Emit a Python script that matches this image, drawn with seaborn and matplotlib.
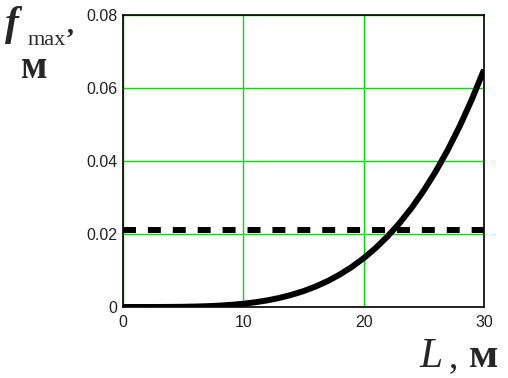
import matplotlib
matplotlib.use("Agg")
import matplotlib.pyplot as plt
import seaborn as sns
import pandas as pd

# Data
L_values = list(range(0, 31))
f_values = [0.0, 0.0000001, 0.0000017, 0.0000082, 0.000025, 0.00006, 0.000122,
            0.000223, 0.000375, 0.000593, 0.000896, 0.0013, 0.001823, 0.00249,
            0.00333, 0.00435, 0.0056, 0.00709, 0.00887, 0.01094, 0.01337,
            0.01617, 0.01939, 0.02306, 0.02723, 0.03193, 0.0372, 0.0431,
            0.04966, 0.05695, 0.065]
f_limit = [0.021, 0.021]
L_limit = [0, 30]
x_ticks = [0, 10, 20, 30]
y_ticks = [0, 0.02, 0.04, 0.06, 0.08]
y_tick_labels = ["0", "0.02", "0.04", "0.06", "0.08"]

sns.set_theme(style="white")
plt.rcParams['font.family'] = ['Liberation Sans', 'DejaVu Sans']

W, H = 508, 378
fig = plt.figure(figsize=(W / 100, H / 100), dpi=100)
ax = fig.add_axes([123 / W, 1 - 307 / H, (484 - 123) / W, (307 - 15) / H])

df_curve = pd.DataFrame({"L": L_values, "f": f_values})
df_lim = pd.DataFrame({"L": L_limit, "f": f_limit})

sns.lineplot(data=df_lim, x="L", y="f", ax=ax, color="black", linewidth=4.3,
             linestyle=(0, (2.17, 2.0)), dash_capstyle="butt", zorder=3)
sns.lineplot(data=df_curve, x="L", y="f", ax=ax, color="black", linewidth=4.3,
             zorder=4, solid_capstyle="butt")

ax.set_xlim(0, 30)
ax.set_ylim(0, 0.08)
ax.set_xticks(x_ticks)
ax.set_yticks(y_ticks)
ax.set_yticklabels(y_tick_labels)
ax.grid(True, color="#00e000", linewidth=1.0)
for s in ax.spines.values():
    s.set_color("black")
    s.set_linewidth(1.2)
ax.tick_params(axis="both", length=0, labelsize=11.5, colors="#222222")
ax.tick_params(axis="x", pad=6)
ax.tick_params(axis="y", pad=4)
ax.set_xlabel("")
ax.set_ylabel("")

serif = ['Liberation Serif', 'DejaVu Serif']
def px(x, y):
    return x / W, 1 - y / H

fig.text(*px(5, 35), "f", fontsize=30, style="italic", fontweight="bold",
         family=serif, va="baseline")
fig.text(*px(28, 45), "max", fontsize=16, family=serif, va="baseline")
fig.text(*px(67, 33), ",", fontsize=20, fontweight="bold", family=serif,
         va="baseline")
fig.text(*px(21, 78), "м", fontsize=28, fontweight="bold", family=serif,
         va="baseline")
fig.text(*px(419, 367), "L", fontsize=30, style="italic", family=serif,
         va="baseline")
fig.text(*px(449, 367), ",", fontsize=27, family=serif, va="baseline")
fig.text(*px(469, 367), "м", fontsize=31, fontweight="bold", family=serif,
         va="baseline")

fig.savefig("out.png", dpi=100)
